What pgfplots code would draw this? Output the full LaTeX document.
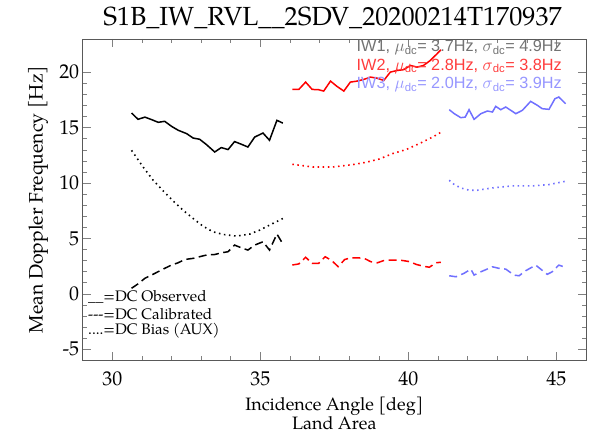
\documentclass[border=0pt]{standalone}
\usepackage{fontspec}
\setmainfont{TeX Gyre Pagella}
\newfontfamily\hv{Liberation Sans}
\usepackage{pgfplots}
\pgfplotsset{compat=1.18}

\definecolor{iwred}{RGB}{255,0,0}
\definecolor{iwblue}{RGB}{112,112,255}
\definecolor{txtgray}{RGB}{115,115,115}
\definecolor{txtred}{RGB}{255,60,60}
\definecolor{txtblue}{RGB}{150,150,255}

\tikzset{
  obs/.style={line width=1.5bp},
  cal/.style={line width=1.5bp, dash pattern=on 8bp off 4.5bp},
  aux/.style={line width=1.6bp, dash pattern=on 1.5bp off 3.6bp},
}

\begin{document}
\begin{tikzpicture}
\begin{axis}[
  name=ax,
  scale only axis,
  width=503.3bp, height=321.3bp,
  xmin=29, xmax=46, ymin=-6, ymax=23,
  xtick={30,35,40,45}, ytick={-5,0,5,10,15,20},
  minor x tick num=4, minor y tick num=4,
  xtick pos=both, ytick pos=both,
  tick align=inside,
  major tick length=8bp, minor tick length=4bp,
  axis line style={black!65, line width=0.6bp},
  every tick/.style={black!50, line width=0.5bp},
  /pgf/number format/assume math mode=true,
  tick label style={font=\fontsize{20}{22}\selectfont},
  xticklabel style={yshift=-8bp},
  xlabel={Incidence Angle [deg]\\Land Area},
  xlabel style={at={(axis description cs:0.5,0)}, anchor=north, yshift=-33bp,
                align=center, font=\fontsize{18}{19.5}\selectfont},
  ylabel={Mean Doppler Frequency [Hz]},
  ylabel style={at={(axis description cs:-0.0888,0.5)}, anchor=center, rotate=0,
                font=\fontsize{19.5}{20}\selectfont},
  clip=false,
]
% IW1
\addplot[obs, black] coordinates {
 (30.65,16.32) (30.87,15.75) (31.10,15.95) (31.33,15.72) (31.55,15.48)
 (31.77,15.57) (32.00,15.12) (32.22,14.77) (32.51,14.46) (32.73,14.06)
 (32.95,13.95) (33.18,13.47) (33.46,12.80) (33.68,13.20) (33.91,13.02)
 (34.13,13.74) (34.36,13.50) (34.58,13.25) (34.81,14.15) (35.09,14.51)
 (35.31,13.86) (35.56,15.66) (35.76,15.41)};
\addplot[aux, black] coordinates {
 (30.65,12.95) (31.04,11.45) (31.38,10.25) (31.72,9.29) (32.05,8.39)
 (32.39,7.55) (32.73,6.80) (33.06,6.11) (33.40,5.60) (33.74,5.36)
 (34.19,5.21) (34.64,5.39) (34.98,5.75) (35.31,6.20) (35.76,6.80)};
\addplot[cal, black] coordinates {
 (30.65,0.50) (30.87,0.90) (31.10,1.40) (31.33,1.70) (31.55,2.00)
 (31.77,2.30) (32.00,2.60) (32.22,2.80) (32.45,3.10) (32.73,3.20)
 (32.95,3.35) (33.18,3.50) (33.46,3.55) (33.68,3.70) (33.91,3.80)
 (34.13,4.40) (34.36,4.15) (34.58,3.95) (34.81,4.40) (35.09,4.70)
 (35.31,3.95) (35.56,5.40) (35.76,4.50)};
% IW2
\addplot[obs, iwred] coordinates {
 (36.08,18.45) (36.30,18.45) (36.53,19.11) (36.75,18.45) (36.97,18.42)
 (37.14,18.30) (37.37,19.20) (37.59,18.72) (37.82,18.30) (38.04,19.11)
 (38.27,19.20) (38.49,19.35) (38.72,19.56) (38.94,19.47) (39.17,19.26)
 (39.39,20.01) (39.62,20.16) (39.84,20.23) (40.07,20.61) (40.29,20.46)
 (40.51,20.61) (40.74,21.06) (40.97,21.67) (41.10,22.03)};
\addplot[aux, iwred] coordinates {
 (36.08,11.69) (36.77,11.45) (37.45,11.45) (38.12,11.66) (38.57,11.87)
 (39.02,12.17) (39.47,12.66) (39.92,13.02) (40.37,13.56) (40.82,14.15)
 (41.08,14.55)};
\addplot[cal, iwred] coordinates {
 (36.08,2.60) (36.30,2.70) (36.53,3.30) (36.75,2.75) (36.97,2.75)
 (37.19,3.35) (37.41,3.00) (37.63,2.45) (37.85,3.10) (38.07,3.25)
 (38.29,3.25) (38.51,3.20) (38.73,2.90) (38.95,2.80) (39.17,3.00)
 (39.39,3.05) (39.61,3.05) (39.83,3.00) (40.05,2.90) (40.27,2.65)
 (40.49,2.50) (40.71,2.40) (40.93,2.80) (41.10,2.85)};
% IW3
\addplot[obs, iwblue] coordinates {
 (41.38,16.62) (41.55,16.26) (41.77,15.90) (41.92,15.95) (42.05,16.62)
 (42.22,15.75) (42.45,16.26) (42.67,16.50) (42.84,16.41) (42.95,16.92)
 (43.12,16.62) (43.29,16.86) (43.46,16.56) (43.63,16.26) (43.85,16.56)
 (44.13,17.37) (44.36,17.01) (44.52,16.71) (44.75,16.65) (44.95,17.61)
 (45.08,17.76) (45.20,17.46) (45.31,17.16)};
\addplot[aux, iwblue] coordinates {
 (41.38,10.25) (41.55,9.86) (41.77,9.56) (42.05,9.35) (42.33,9.35)
 (42.84,9.56) (43.51,9.74) (44.19,9.74) (44.75,9.86) (45.31,10.16)};
\addplot[cal, iwblue] coordinates {
 (41.38,1.63) (41.61,1.54) (41.88,1.85) (42.11,2.23) (42.22,1.69)
 (42.45,1.99) (42.84,2.44) (43.06,2.30) (43.29,2.23) (43.57,1.69)
 (43.74,1.63) (43.96,2.08) (44.30,2.59) (44.47,2.23) (44.69,1.76)
 (44.86,1.99) (45.08,2.59) (45.25,2.44)};

% title
\node[font=\fontsize{26.3}{28}\selectfont] at (axis cs:37.44,24.95)
  {S1B\_IW\_RVL\_\_2SDV\_20200214T170937};

% swath statistics
\begin{scope}[every node/.style={anchor=east, font=\hv\fontsize{16.3}{17}\selectfont, inner sep=0pt}]
\node[txtgray] at (axis cs:45.19,22.20) {IW1, $\mu$\textsubscript{dc}= 3.7Hz, $\sigma$\textsubscript{dc}= 4.9Hz};
\node[txtred]  at (axis cs:45.19,20.55) {IW2, $\mu$\textsubscript{dc}= 2.8Hz, $\sigma$\textsubscript{dc}= 3.8Hz};
\node[txtblue] at (axis cs:45.19,18.90) {IW3, $\mu$\textsubscript{dc}= 2.0Hz, $\sigma$\textsubscript{dc}= 3.9Hz};
\end{scope}

% line style key
\begin{scope}[every node/.style={anchor=west, font=\fontsize{15.3}{16}\selectfont, inner sep=0pt}]
\node at (axis cs:29.18,-0.29) {\_\_=DC Observed};
\node at (axis cs:29.18,-1.82) {-{}-{}-=DC Calibrated};
\node at (axis cs:29.18,-3.36) {....=DC Bias (AUX)};
\end{scope}
\end{axis}
\pgfresetboundingbox
\path ([shift={(-82.7bp,-73.7bp)}]ax.south west) rectangle ([shift={(7bp,39bp)}]ax.north east);
\end{tikzpicture}
\end{document}
